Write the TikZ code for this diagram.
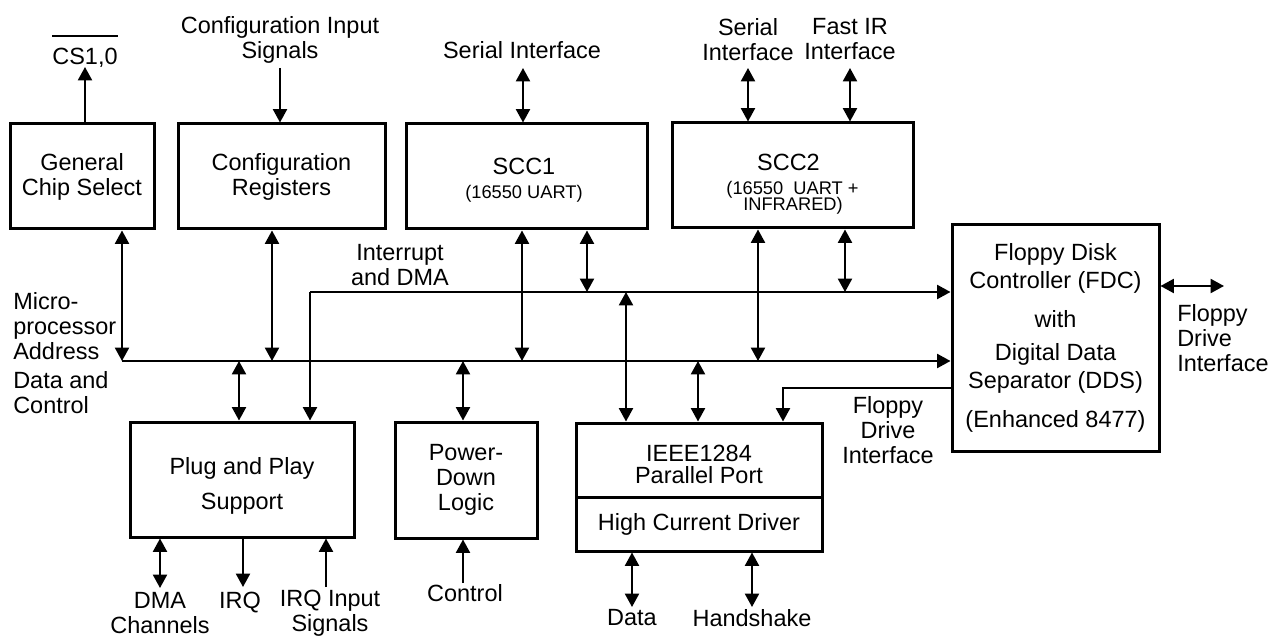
\documentclass[tikz,border=0pt]{standalone}
\usepackage{fontspec}
\setmainfont{Liberation Sans}
\usetikzlibrary{arrows.meta}
\newcommand\fntA{\fontsize{17.6pt}{18.75pt}\selectfont}
\newcommand\fntB{\fontsize{13.7pt}{15pt}\selectfont}
\begin{document}
\begin{tikzpicture}[x=0.75pt,y=-0.75pt,
  blk/.style={draw, line width=2.25pt, inner sep=0pt, align=center, font=\fntA},
  sz/.style 2 args={minimum width=#1*0.75pt, minimum height=#2*0.75pt},
  txt/.style={inner sep=0pt, align=center, font=\fntA},
  stxt/.style={inner sep=0pt, align=center, font=\fntB},
  con/.style={line width=1.5pt},
  arr/.style={con, -{Triangle[length=10pt,width=10.5pt]}},
  dar/.style={con, {Triangle[length=10pt,width=10.5pt]}-{Triangle[length=10pt,width=10.5pt]}}]
\useasboundingbox (0,0) rectangle (1279,638);

% boxes
\node[blk, sz={144}{105}] (gcs) at (82,176.5) {General\\Chip Select};
\node[blk, sz={207}{105}] (cfg) at (281.5,176.5) {Configuration\\Registers};
\node[blk, sz={241}{105}] (scc1) at (526.5,176.5) {};
\node[txt] (scc1a) at (524,166) {SCC1};
\node[stxt] (scc1b) at (524,194) {(16550 UART)};
\node[blk, sz={241}{105}] (scc2) at (792.5,175.5) {};
\node[txt] (scc2a) at (788.5,162) {SCC2};
\node[stxt] (scc2b) at (792.5,190) {(16550\ \ UART +};
\node[stxt] (scc2c) at (793,206) {INFRARED)};
\node[blk, sz={207}{226}] (fdc) at (1055.5,338) {Floppy Disk\\[2.25pt]Controller (FDC)\\[10.5pt]with\\[6pt]Digital Data\\[2.25pt]Separator (DDS)\\[10.5pt](Enhanced 8477)};
\node[blk, sz={224}{115}] (pnp) at (242,479.5) {};
\node[txt] (pnpt) at (242,485.5) {Plug and Play\\[7.5pt]Support};
\node[blk, sz={142}{116}] (pdl) at (466,480) {Power-\\Down\\Logic};
\node[blk, sz={246}{74}] (ieeeA) at (699,460) {};
\node[txt] (ieeet) at (699,464) {IEEE1284\\[-2.25pt]Parallel Port};
\node[blk, sz={246}{54}] (ieeeB) at (699,524) {High Current Driver};

% free-standing labels
\node[txt] (cslab) at (85,58) {CS1,0};
\draw[line width=1.3pt] ([yshift=9pt]cslab.north west) -- ([yshift=9pt]cslab.north east);
\node[txt] (cilab) at (280,39.5) {Configuration Input\\Signals};
\node[txt] (s1lab) at (522,50) {Serial Interface};
\node[txt] (s2alab) at (748,39.5) {Serial\\Interface};
\node[txt] (s2blab) at (850,39.5) {Fast IR\\Interface};
\node[txt] (intlab) at (400,265.5) {Interrupt\\and DMA};
\node[txt, anchor=west, align=left] (mplab) at (13,353.5) {Micro-\\processor\\Address\\[3pt]Data and\\Control};
\node[txt] (fdilab) at (888,430) {Floppy\\Drive\\Interface};
\node[txt, anchor=west, align=left] (fdrlab) at (1177,338) {Floppy\\Drive\\Interface};
\node[txt] (dmalab) at (160,613.5) {DMA\\Channels};
\node[txt] (irqlab) at (240,603) {IRQ};
\node[txt] (irqilab) at (330,613.5) {IRQ Input\\Signals};
\node[txt] (ctllab) at (465,593) {Control};
\node[txt] (datlab) at (632,618) {Data};
\node[txt] (hslab) at (752,618) {Handshake};

% coordinates
\coordinate (bA) at (122,361);
\coordinate (bI) at (310,292);
\coordinate (a1) at (272,361);
\coordinate (a2) at (522,361);
\coordinate (a3) at (758,361);
\coordinate (d1) at (239,361);
\coordinate (d2) at (463,361);
\coordinate (d3) at (698,361);
\coordinate (i1) at (587,292);
\coordinate (i2) at (845,292);
\coordinate (i3) at (626,292);
\coordinate (cs) at (85,67);
\coordinate (ci) at (280,68);
\coordinate (s1) at (523,68);
\coordinate (s2a) at (748,68);
\coordinate (s2b) at (850,68);
\coordinate (f1) at (783,388);
\coordinate (fr) at (1224,286);
\coordinate (dma) at (160,588);
\coordinate (irq) at (243,587);
\coordinate (irqi) at (326,587);
\coordinate (ctl) at (463,583);
\coordinate (dat) at (632,607);
\coordinate (hs) at (752,607);

% top connections
\draw[arr] (gcs.north -| cs) -- (cs);
\draw[arr] (ci) -- (ci |- cfg.north);
\draw[dar] (s1) -- (s1 |- scc1.north);
\draw[dar] (s2a) -- (s2a |- scc2.north);
\draw[dar] (s2b) -- (s2b |- scc2.north);

% buses
\draw[arr] (bA) -- (bA -| fdc.west);
\draw[arr] (bI) -- (bI -| fdc.west);
\draw[arr] (bI) -- (bI |- pnp.north);

% upper blocks to buses
\draw[dar] (gcs.south -| bA) -- (bA);
\draw[dar] (cfg.south -| a1) -- (a1);
\draw[dar] (scc1.south -| a2) -- (a2);
\draw[dar] (scc1.south -| i1) -- (i1);
\draw[dar] (scc2.south -| a3) -- (a3);
\draw[dar] (scc2.south -| i2) -- (i2);

% buses to lower blocks
\draw[dar] (d1) -- (d1 |- pnp.north);
\draw[dar] (d2) -- (d2 |- pdl.north);
\draw[dar] (d3) -- (d3 |- ieeeA.north);
\draw[dar] (i3) -- (i3 |- ieeeA.north);

% FDC to parallel port and drive
\draw[arr] (f1 -| fdc.west) -- (f1) -- (f1 |- ieeeA.north);
\draw[dar] (fdc.east |- fr) -- (fr);

% bottom connections
\draw[dar] (pnp.south -| dma) -- (dma);
\draw[arr] (pnp.south -| irq) -- (irq);
\draw[arr] (irqi) -- (irqi |- pnp.south);
\draw[arr] (ctl) -- (ctl |- pdl.south);
\draw[dar] (ieeeB.south -| dat) -- (dat);
\draw[dar] (ieeeB.south -| hs) -- (hs);
\end{tikzpicture}
\end{document}
